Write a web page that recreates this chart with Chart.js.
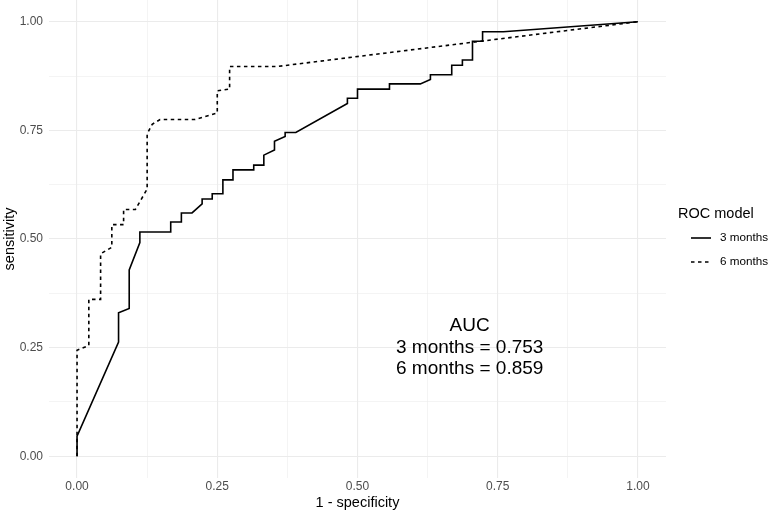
<!DOCTYPE html>
<html>
<head>
<meta charset="utf-8">
<script src="https://cdn.jsdelivr.net/npm/chart.js@4.4.1/dist/chart.umd.min.js"></script>
<style>
  html, body { margin: 0; padding: 0; background: #fff; }
  #wrap { width: 771px; height: 514px; }
</style>
</head>
<body>
<div id="wrap"><canvas id="rocChart" width="771" height="514"></canvas></div>
<script>
// ROC points (x = 1 - specificity, y = sensitivity)
const fpr3 = [0, 0, 0.074, 0.074, 0.093, 0.093, 0.112, 0.112, 0.167, 0.167, 0.186, 0.186, 0.205, 0.223, 0.223, 0.241, 0.241, 0.26, 0.26, 0.278, 0.278, 0.315, 0.315, 0.333, 0.333, 0.352, 0.352, 0.371, 0.371, 0.39, 0.482, 0.482, 0.5, 0.5, 0.557, 0.557, 0.612, 0.63, 0.63, 0.668, 0.668, 0.687, 0.687, 0.705, 0.705, 0.723, 0.723, 0.76, 1];
const sens3 = [0, 0.046, 0.263, 0.33, 0.34, 0.429, 0.492, 0.516, 0.516, 0.539, 0.539, 0.56, 0.56, 0.581, 0.592, 0.592, 0.604, 0.604, 0.636, 0.636, 0.659, 0.659, 0.67, 0.67, 0.693, 0.705, 0.725, 0.736, 0.745, 0.745, 0.812, 0.824, 0.824, 0.845, 0.845, 0.857, 0.857, 0.867, 0.878, 0.878, 0.9, 0.9, 0.912, 0.912, 0.955, 0.955, 0.977, 0.977, 1];
const fpr6 = [0, 0, 0.021, 0.021, 0.042, 0.042, 0.062, 0.062, 0.083, 0.083, 0.104, 0.125, 0.125, 0.134, 0.148, 0.21, 0.25, 0.25, 0.272, 0.272, 0.357, 1];
const sens6 = [0, 0.244, 0.255, 0.361, 0.361, 0.466, 0.481, 0.533, 0.533, 0.568, 0.568, 0.615, 0.742, 0.764, 0.775, 0.775, 0.79, 0.841, 0.845, 0.897, 0.897, 1];

const gridTicks = [0, 0.125, 0.25, 0.375, 0.5, 0.625, 0.75, 0.875, 1];
const majorTicks = [0, 0.25, 0.5, 0.75, 1];
const seriesNames = ['3 months', '6 months'];
const legendTitle = 'ROC model';
const aucLines = ['AUC', '3 months = 0.753', '6 months = 0.859'];

Chart.defaults.font.family = '"Liberation Sans", Arial, sans-serif';

function toPoints(xs, ys) {
  return xs.map((x, i) => ({ x: x, y: ys[i] }));
}

function axisScale(title, isX) {
  return {
    type: 'linear',
    min: -0.05,
    max: 1.05,
    afterBuildTicks: s => { s.ticks = gridTicks.map(v => ({ value: v })); },
    afterFit: s => {
      if (isX) {
        s.height = 36;
      } else {
        s.width = 49;
        s.paddingTop = 0;
        s.paddingBottom = 0;
      }
    },
    ticks: {
      autoSkip: false,
      maxRotation: 0,
      padding: isX ? 1 : 6,
      color: '#4d4d4d',
      font: { size: 12 },
      callback: v => majorTicks.includes(v) ? v.toFixed(2) : ''
    },
    grid: {
      color: '#ebebeb',
      drawTicks: false,
      lineWidth: c => majorTicks.includes(c.tick.value) ? 1.1 : 0.55
    },
    border: { display: false },
    title: {
      display: true,
      text: title,
      color: '#000',
      font: { size: 14.5 },
      padding: isX ? { top: 0, bottom: 2 } : { top: 1, bottom: 0 }
    }
  };
}

// legend + AUC note drawn on the canvas
const extras = {
  id: 'extras',
  afterDraw(chart) {
    const c = chart.ctx;
    const xs = chart.scales.x, ys = chart.scales.y;
    const fam = Chart.defaults.font.family;
    c.save();
    c.fillStyle = '#000';
    c.textBaseline = 'middle';

    c.font = '14.5px ' + fam;
    c.textAlign = 'left';
    c.fillText(legendTitle, 678, 214);

    c.font = '11.7px ' + fam;
    chart.data.datasets.forEach((ds, i) => {
      const y = 238 + i * 24;
      c.strokeStyle = ds.borderColor;
      c.lineWidth = ds.borderWidth;
      c.setLineDash(ds.borderDash || []);
      c.beginPath();
      c.moveTo(691, y);
      c.lineTo(711, y);
      c.stroke();
      c.fillText(ds.label, 720, y);
    });
    c.setLineDash([]);

    c.font = '19px ' + fam;
    c.textAlign = 'center';
    const cx = xs.getPixelForValue(0.7);
    const cy = ys.getPixelForValue(0.25);
    aucLines.forEach((t, i) => c.fillText(t, cx, cy + (i - 1) * 21.5));
    c.restore();
  }
};

const ctx = document.getElementById('rocChart');
const chart = new Chart(ctx, {
  type: 'scatter',
  data: {
    datasets: [{
      label: seriesNames[0],
      data: toPoints(fpr3, sens3),
      showLine: true,
      borderColor: '#000',
      borderWidth: 1.6,
      pointRadius: 0,
      tension: 0
    }, {
      label: seriesNames[1],
      data: toPoints(fpr6, sens6),
      showLine: true,
      borderColor: '#000',
      borderWidth: 1.6,
      borderDash: [3.5, 3.5],
      pointRadius: 0,
      tension: 0
    }]
  },
  options: {
    responsive: false,
    animation: false,
    layout: { padding: { top: 0, right: 105, bottom: 0, left: 0 } },
    plugins: {
      legend: { display: false },
      tooltip: { enabled: false }
    },
    scales: {
      x: axisScale('1 - specificity', true),
      y: axisScale('sensitivity', false)
    }
  },
  plugins: [extras]
});
</script>
</body>
</html>
